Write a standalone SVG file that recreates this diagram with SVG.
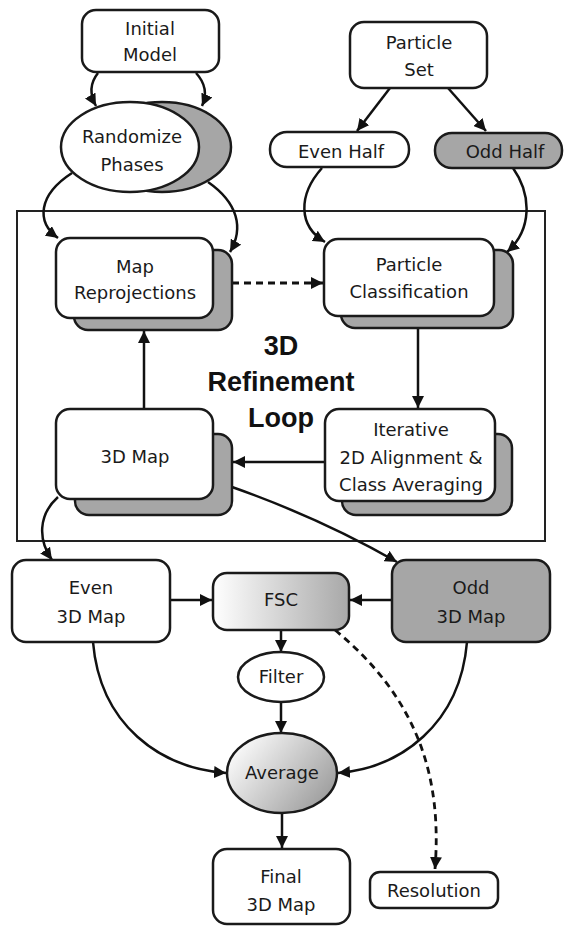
<svg xmlns="http://www.w3.org/2000/svg" width="565" height="928" viewBox="0 0 565 928">
<style>
.box{fill:#fff;stroke:#1a1a1a;stroke-width:2.5}
.shadow{fill:#a6a6a6;stroke:#1a1a1a;stroke-width:2.5}
.dark{fill:#a6a6a6;stroke:#1a1a1a;stroke-width:2.5}
.lbl{font-family:"DejaVu Sans",sans-serif;font-size:18px;fill:#1a1a1a;text-anchor:middle}
.big{font-family:"Liberation Sans",Arial,sans-serif;font-size:27px;font-weight:bold;fill:#111;text-anchor:middle}
.edge{fill:none;stroke:#111;stroke-width:2.5;marker-end:url(#ah)}
.dash{stroke-dasharray:7 5;stroke-width:2.8}
</style>
<defs>
<marker id="ah" markerUnits="userSpaceOnUse" markerWidth="13" markerHeight="12" refX="12" refY="6" orient="auto">
<path d="M0,0 L12,6 L0,12 z" fill="#111"/>
</marker>
<linearGradient id="gFSC" x1="0" y1="0" x2="1" y2="0">
<stop offset="0" stop-color="#ffffff"/>
<stop offset="1" stop-color="#a8a8a8"/>
</linearGradient>
<linearGradient id="gAvg" x1="0" y1="0.2" x2="1" y2="0.8">
<stop offset="0" stop-color="#ffffff"/>
<stop offset="1" stop-color="#999999"/>
</linearGradient>
</defs>

<rect id="loop" x="17" y="211" width="528" height="330" fill="none" stroke="#222" stroke-width="2"/>
<g id="loop-label">
<text class="big" x="281" y="355">3D</text>
<text class="big" x="281" y="391">Refinement</text>
<text class="big" x="281" y="427">Loop</text>
</g>

<g id="connectors">
<path class="edge" d="M98,73 Q86,88 96,106"/>
<path class="edge" d="M196,73 Q210,88 202,106"/>
<path class="edge" d="M72,173 C38,195 36,222 58,238"/>
<path class="edge" d="M208,182 C238,203 244,228 230,252"/>
<path class="edge" d="M390,88 L357,131"/>
<path class="edge" d="M448,88 L486,131"/>
<path class="edge" d="M322,168 C298,195 298,226 325,242"/>
<path class="edge" d="M513,168 C532,195 532,230 507,252"/>
<path class="edge dash" d="M232,283 L323,283"/>
<path class="edge" d="M418,328 L418,408"/>
<path class="edge" d="M325,462 L233,462"/>
<path class="edge" d="M144,409 L144,331"/>
<path class="edge" d="M58,497 C38,515 38,540 52,560"/>
<path class="edge" d="M232,487 Q320,518 397,562"/>
<path class="edge" d="M170,600 L212,600"/>
<path class="edge" d="M392,600 L350,600"/>
<path class="edge" d="M281,630 L281,652"/>
<path class="edge" d="M281,702 L281,733"/>
<path class="edge" d="M93,642 C100,725 160,768 226,773"/>
<path class="edge" d="M467,642 C460,725 400,768 338,773"/>
<path class="edge dash" d="M335,630 C420,700 442,780 435,869"/>
<path class="edge" d="M282,813 L282,848"/>
</g>

<g id="initial-model">
<rect class="box" x="82" y="10" width="137" height="62" rx="14"/>
<text class="lbl" x="150" y="35">Initial</text>
<text class="lbl" x="150" y="61">Model</text>
</g>

<g id="randomize-phases">
<ellipse class="shadow" cx="162" cy="147" rx="69" ry="45"/>
<ellipse class="box" cx="130" cy="147" rx="69" ry="45"/>
<text class="lbl" x="132" y="143">Randomize</text>
<text class="lbl" x="132" y="171">Phases</text>
</g>

<g id="particle-set">
<rect class="box" x="350" y="22" width="137" height="66" rx="14"/>
<text class="lbl" x="419" y="49">Particle</text>
<text class="lbl" x="419" y="76">Set</text>
</g>

<g id="even-half">
<rect class="box" x="270" y="132" width="139" height="35" rx="17"/>
<text class="lbl" x="341" y="158">Even Half</text>
</g>

<g id="odd-half">
<rect class="dark" x="435" y="133" width="127" height="35" rx="17"/>
<text class="lbl" x="505" y="158">Odd Half</text>
</g>

<g id="map-reprojections">
<rect class="shadow" x="74" y="250" width="158" height="80" rx="14"/>
<rect class="box" x="56" y="238" width="157" height="80" rx="14"/>
<text class="lbl" x="135" y="273">Map</text>
<text class="lbl" x="135" y="299">Reprojections</text>
</g>

<g id="particle-classification">
<rect class="shadow" x="341" y="250" width="172" height="78" rx="14"/>
<rect class="box" x="324" y="239" width="170" height="77" rx="14"/>
<text class="lbl" x="409" y="271">Particle</text>
<text class="lbl" x="409" y="298">Classification</text>
</g>

<g id="map-3d">
<rect class="shadow" x="75" y="434" width="157" height="81" rx="14"/>
<rect class="box" x="56" y="409" width="157" height="90" rx="14"/>
<text class="lbl" x="135" y="463">3D Map</text>
</g>

<g id="iterative-alignment">
<rect class="shadow" x="342" y="434" width="170" height="81" rx="14"/>
<rect class="box" x="325" y="409" width="170" height="92" rx="14"/>
<text class="lbl" x="411" y="436">Iterative</text>
<text class="lbl" x="411" y="464">2D Alignment &amp;</text>
<text class="lbl" x="411" y="491">Class Averaging</text>
</g>

<g id="even-3d-map">
<rect class="box" x="12" y="560" width="158" height="82" rx="14"/>
<text class="lbl" x="91" y="594">Even</text>
<text class="lbl" x="91" y="623">3D Map</text>
</g>

<g id="fsc">
<rect x="213" y="573" width="136" height="57" rx="14" fill="url(#gFSC)" stroke="#1a1a1a" stroke-width="2.5"/>
<text class="lbl" x="281" y="606">FSC</text>
</g>

<g id="odd-3d-map">
<rect class="dark" x="392" y="560" width="158" height="82" rx="14"/>
<text class="lbl" x="471" y="594">Odd</text>
<text class="lbl" x="471" y="623">3D Map</text>
</g>

<g id="filter">
<ellipse class="box" cx="281" cy="677" rx="43" ry="25"/>
<text class="lbl" x="281" y="683">Filter</text>
</g>

<g id="average">
<ellipse cx="282" cy="773" rx="55" ry="40" fill="url(#gAvg)" stroke="#1a1a1a" stroke-width="2.5"/>
<text class="lbl" x="282" y="779">Average</text>
</g>

<g id="final-3d-map">
<rect class="box" x="213" y="849" width="137" height="75" rx="14"/>
<text class="lbl" x="281" y="883">Final</text>
<text class="lbl" x="281" y="911">3D Map</text>
</g>

<g id="resolution">
<rect class="box" x="370" y="872" width="128" height="36" rx="10"/>
<text class="lbl" x="434" y="897">Resolution</text>
</g>
</svg>
